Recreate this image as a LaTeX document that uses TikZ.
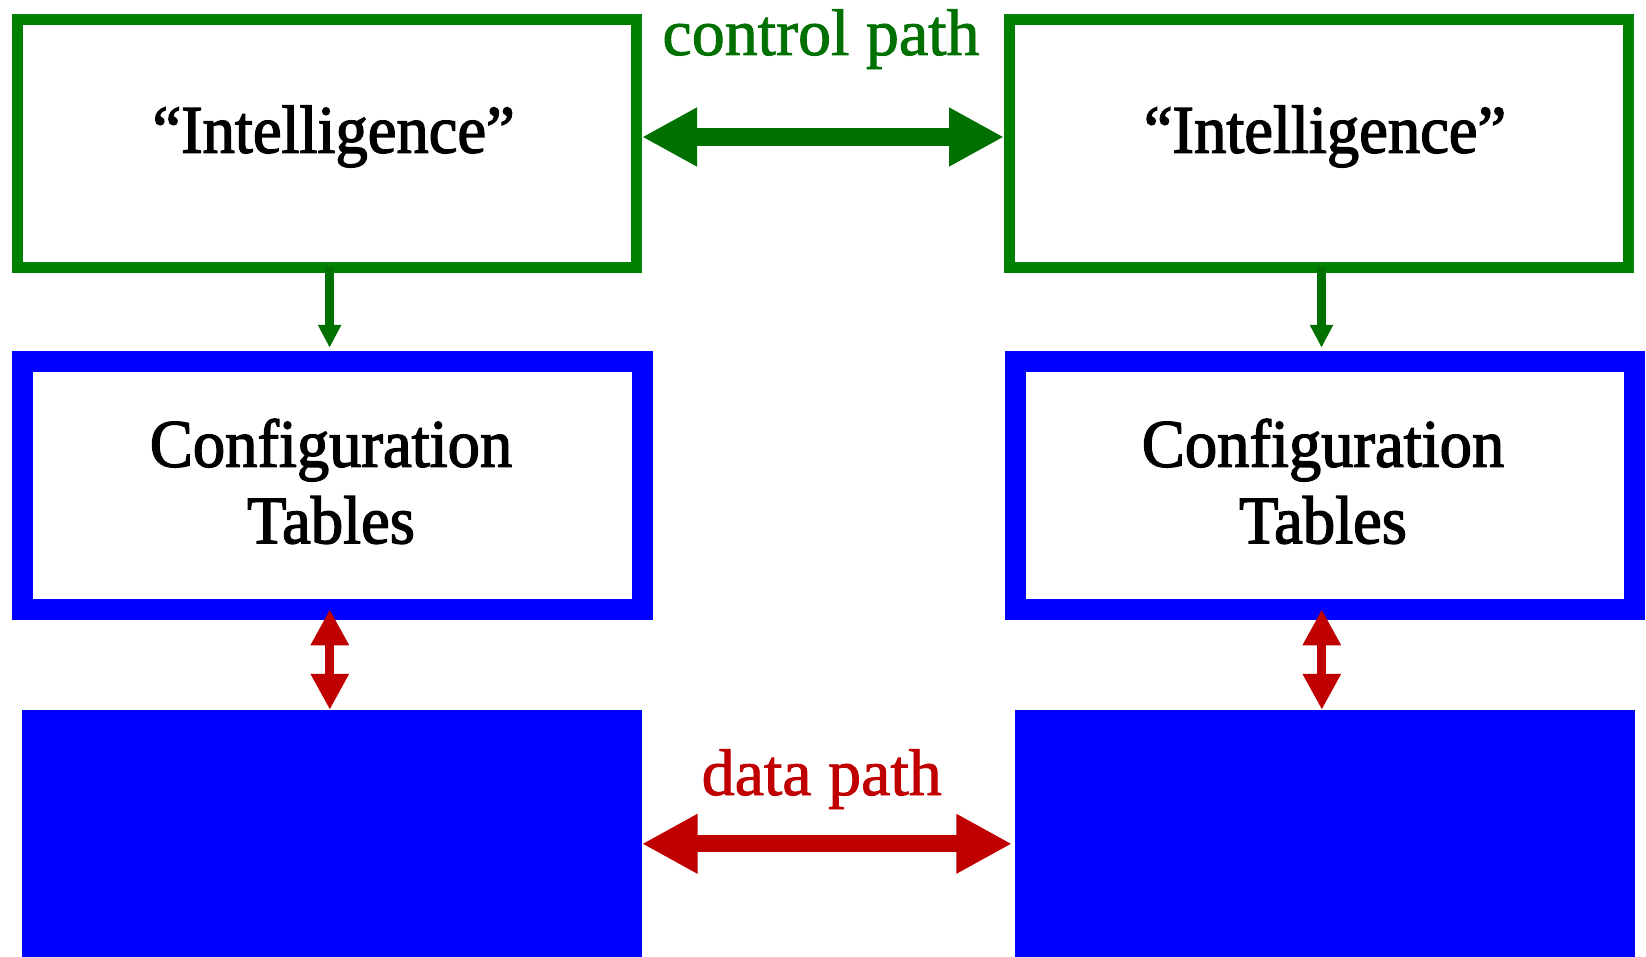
\documentclass[tikz,border=0pt]{standalone}
\usepackage{fontspec}
\setmainfont{Liberation Serif}
\newfontfamily\boxfont[FakeStretch=0.95,FakeBold=2]{Liberation Serif}
\newfontfamily\labelfont[FakeBold=1.3]{Liberation Serif}
\usetikzlibrary{arrows.meta}
\definecolor{ctlgreen}{RGB}{0,128,0}
\definecolor{ctldark}{RGB}{0,112,0}
\definecolor{cfgblue}{RGB}{0,0,255}
\definecolor{datared}{RGB}{192,0,0}

\begin{document}
\begin{tikzpicture}[x=1pt,y=-1pt,
  intelbox/.style={draw=ctlgreen, line width=11pt, fill=white,
    minimum width=619pt, minimum height=248pt, inner sep=0pt},
  cfgbox/.style={draw=cfgblue, line width=21pt, fill=white,
    minimum width=619.4pt, minimum height=248.6pt, inner sep=0pt},
  engine/.style={fill=cfgblue, minimum width=619.7pt, minimum height=267pt, inner sep=0pt},
  boxtext/.style={font=\boxfont\fontsize{68}{76.6}\selectfont, inner sep=0pt,
    anchor=base, align=center},
  pathlabel/.style={font=\labelfont\fontsize{66}{70}\selectfont, inner sep=0pt, anchor=base},
  ctlarrow/.style={draw=ctldark, line width=17.3pt,
    {Triangle[length=55pt,width=55pt]}-{Triangle[length=55pt,width=55pt]}},
  dataarrow/.style={draw=datared, line width=17.3pt,
    {Triangle[length=55.6pt,width=55.7pt]}-{Triangle[length=55.6pt,width=55.7pt]}},
  downarrow/.style={draw=ctldark, line width=8.7pt,
    -{Triangle[length=22.7pt,width=21.7pt]}},
  cfgarrow/.style={draw=datared, line width=9pt,
    {Triangle[length=36pt,width=36pt]}-{Triangle[length=36pt,width=36pt]}}
]
\fill[white] (0,0) rectangle (1646,957);
\useasboundingbox (0,0) rectangle (1646,957);

% controller boxes
\node[intelbox] (g1) at (327,143.8) {};
\node[intelbox] (g2) at (1319,143.8) {};
% configuration tables
\node[cfgbox] (b1) at (332.5,485.5) {};
\node[cfgbox] (b2) at (1325,485.5) {};
% forwarding engines
\node[engine] (d1) at (331.85,843.5) {};
\node[engine] (d2) at (1324.7,843.5) {};

% box texts (a two-line node sits on the baseline of its last line)
\node[boxtext] (t1) at (333.6,152.7) {“Intelligence”};
\node[boxtext] (t2) at (1325,152.7) {“Intelligence”};
\node[boxtext] (c1) at (331,543.3) {Configuration\\Tables};
\node[boxtext] (c2) at (1323,543.3) {Configuration\\Tables};

% path labels
\node[pathlabel, text=ctldark] (cl) at (821,55) {control path};
\node[pathlabel, text=datared] (dl) at (821.7,795) {data path};

% guide coordinates
\coordinate (cpy) at (0,137);
\coordinate (dpy) at (0,843.8);
\coordinate (axL) at (329.6,0);
\coordinate (axR) at (1321.5,0);
\coordinate (dxL) at (329.8,0);
\coordinate (dxR) at (1321.8,0);

% control path
\draw[ctlarrow] (g1.east |- cpy) -- (g2.west |- cpy);
% data path
\draw[dataarrow, shorten >=2.7pt] (d1.east |- dpy) -- (d2.west |- dpy);

% controller to tables
\draw[downarrow, shorten <=-6pt, shorten >=3pt] (g1.south -| axL) -- (b1.north -| axL);
\draw[downarrow, shorten <=-6pt, shorten >=3pt] (g2.south -| axR) -- (b2.north -| axR);

% tables to engines
\draw[cfgarrow, shorten <=-11pt] (b1.south -| dxL) -- (d1.north -| dxL);
\draw[cfgarrow, shorten <=-11pt] (b2.south -| dxR) -- (d2.north -| dxR);
\end{tikzpicture}
\end{document}
